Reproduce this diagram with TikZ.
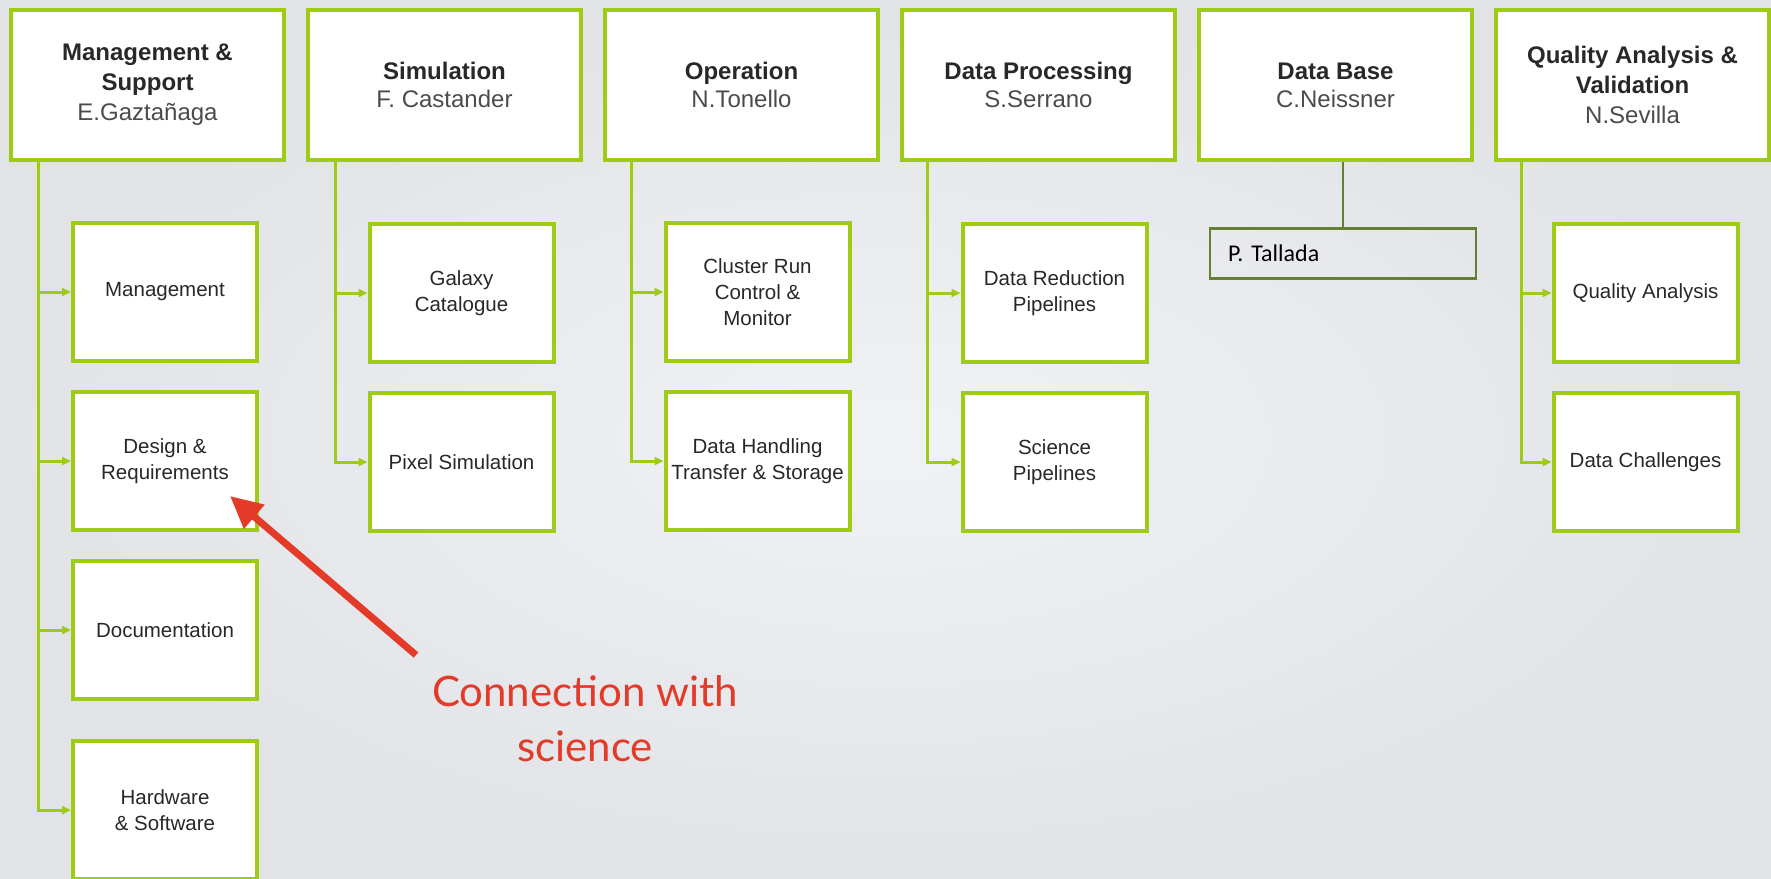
\documentclass[tikz,border=0pt]{standalone}
\usepackage{fontspec}
\setmainfont{Liberation Sans}
\newfontfamily\gillfont{Lato}
\newfontfamily\calfont{Carlito}
\usetikzlibrary{arrows.meta}
\definecolor{lime}{RGB}{158,204,20}
\definecolor{talladagreen}{RGB}{100,128,50}
\definecolor{namegray}{RGB}{75,75,75}
\definecolor{txtgray}{RGB}{40,40,40}
\definecolor{alertred}{RGB}{228,58,40}
\definecolor{bgin}{RGB}{241,242,244}
\definecolor{bgout}{RGB}{225,227,231}
\tikzset{
  wp/.style={draw=lime,line width=4pt,fill=white,minimum width=273pt,minimum height=150pt,
    inner sep=0pt,align=center,text=txtgray,font=\fontsize{24}{28}\selectfont},
  wpthree/.style={wp,font=\fontsize{24}{30}\selectfont},
  task/.style={draw=lime,line width=4pt,fill=white,minimum width=184pt,minimum height=138pt,
    inner sep=0pt,align=center,text=txtgray,font=\fontsize{20.5}{26}\selectfont},
  link/.style={draw=lime,line width=3pt,-{Triangle[length=9pt,width=8pt]}},
  pbox/.style={draw=talladagreen,line width=2.5pt,minimum height=50pt,text width=230pt,
    inner xsep=18pt,inner ysep=0pt,align=left,font=\calfont\fontsize{24}{28}\selectfont},
}
\newcommand{\wpname}[1]{{\color{namegray}#1}}
\begin{document}
\begin{tikzpicture}[x=1pt,y=-1pt]
\useasboundingbox (0,0) rectangle (1771,878);
\clip (0,0) rectangle (1771,878);
\shade[inner color=bgin,outer color=bgout] (0,0) rectangle (1771,878);
% work packages
\node[wpthree] (mgmt) at (147.5,85) {\textbf{Management \&}\\\textbf{Support}\\\wpname{E.Gaztañaga}};
\node[wp] (sim) at (444.5,85) {\textbf{Simulation}\\\wpname{F. Castander}};
\node[wp] (oper) at (741.5,85) {\textbf{Operation}\\\wpname{N.Tonello}};
\node[wp] (proc) at (1038.5,85) {\textbf{Data Processing}\\\wpname{S.Serrano}};
\node[wp] (dbase) at (1335.5,85) {\textbf{Data Base}\\\wpname{C.Neissner}};
\node[wpthree] (qa) at (1632.5,85) {\textbf{Quality Analysis \&}\\\textbf{Validation}\\\wpname{N.Sevilla}};
% tasks
\node[task] (mgmtA) at (165,292) {Management};
\node[task] (mgmtB) at (165,461) {Design \&\\Requirements};
\node[task] (mgmtC) at (165,630) {Documentation};
\node[task] (mgmtD) at (165,810) {Hardware\\\& Software};
\node[task] (simA) at (461.5,293) {Galaxy\\Catalogue};
\node[task] (simB) at (461.5,462) {Pixel Simulation};
\node[task] (operA) at (757.5,292) {Cluster Run\\Control \&\\Monitor};
\node[task] (operB) at (757.5,461) {Data Handling\\Transfer \& Storage};
\node[task] (procA) at (1054.5,293) {Data Reduction\\Pipelines};
\node[task] (procB) at (1054.5,462) {Science\\Pipelines};
\node[task] (qaA) at (1645.5,293) {Quality Analysis};
\node[task] (qaB) at (1645.5,462) {Data Challenges};
% branches
\draw[link] ([xshift=29pt]mgmt.south west) |- (mgmtA.west);
\draw[link] ([xshift=29pt]mgmt.south west) |- (mgmtB.west);
\draw[link] ([xshift=29pt]mgmt.south west) |- (mgmtC.west);
\draw[link] ([xshift=29pt]mgmt.south west) |- (mgmtD.west);
\draw[link] ([xshift=29pt]sim.south west) |- (simA.west);
\draw[link] ([xshift=29pt]sim.south west) |- (simB.west);
\draw[link] ([xshift=28pt]oper.south west) |- (operA.west);
\draw[link] ([xshift=28pt]oper.south west) |- (operB.west);
\draw[link] ([xshift=27pt]proc.south west) |- (procA.west);
\draw[link] ([xshift=27pt]proc.south west) |- (procB.west);
\draw[link] ([xshift=27pt]qa.south west) |- (qaA.west);
\draw[link] ([xshift=27pt]qa.south west) |- (qaB.west);
% data base person
\node[pbox] (tallada) at (1343,253.5) {P. Tallada};
\draw[talladagreen,line width=2.5pt] (tallada.north) -- (tallada.north |- dbase.south);
% science remark
\coordinate (tip) at (230,496);
\coordinate (tail) at (416,655);
\node[font=\gillfont\fontsize{42}{55}\selectfont,text=alertred,align=center] (conn) at (585,719) {Connection with\\science};
\draw[alertred,line width=7pt,-{Triangle[length=32pt,width=30pt]}] (tail) -- (tip);
\end{tikzpicture}
\end{document}
